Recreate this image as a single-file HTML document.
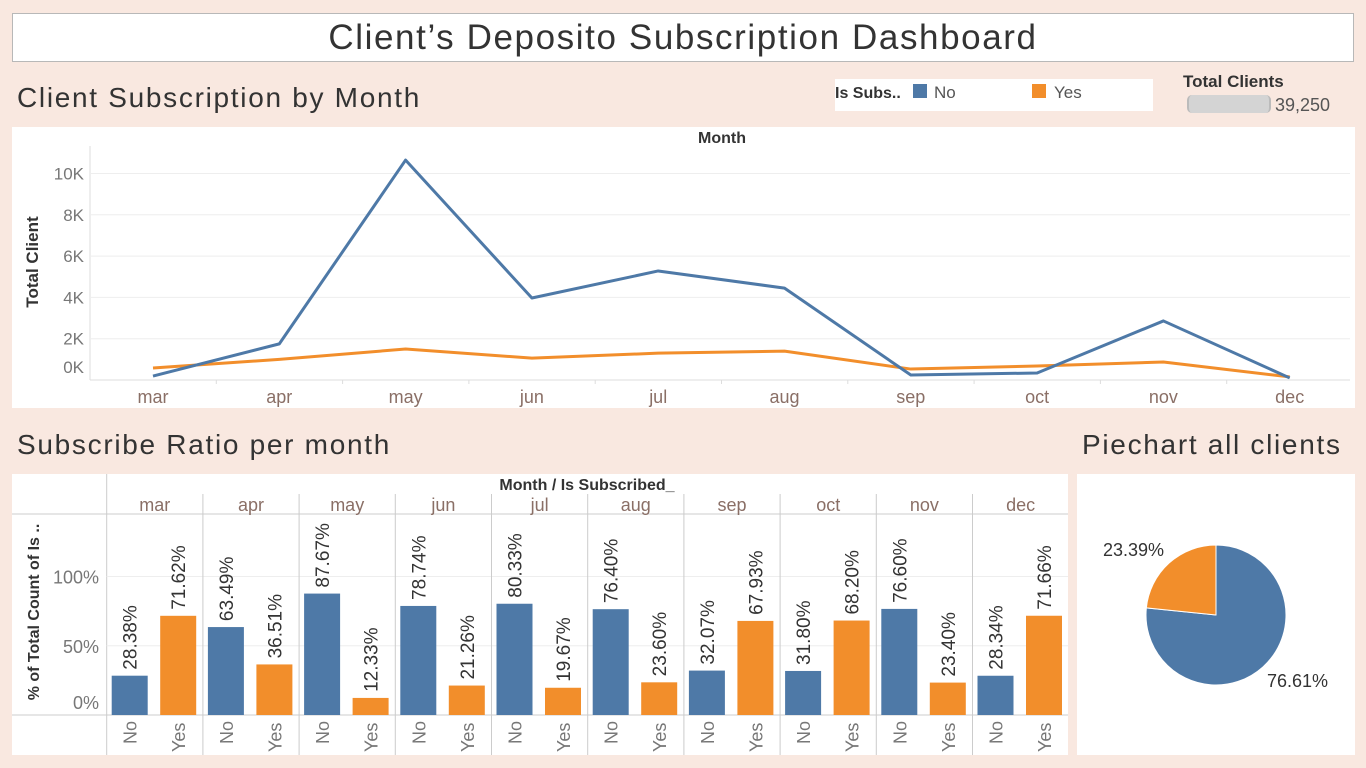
<!DOCTYPE html>
<html><head><meta charset="utf-8"><style>
body{margin:0;width:1366px;height:768px;background:#f9e8e0;font-family:"Liberation Sans",sans-serif;position:relative;overflow:hidden}
.abs{position:absolute}
svg text{font-family:"Liberation Sans",sans-serif}
.sub{letter-spacing:1.7px}
</style></head><body>
<div class="abs" style="left:12px;top:13px;width:1340px;height:47px;background:#fff;border:1px solid #b8b8b8;text-align:center;font-size:35px;letter-spacing:1.6px;line-height:48px;color:#333">Client’s Deposito Subscription Dashboard</div>
<div class="abs sub" style="left:17px;top:82px;font-size:28px;color:#333">Client Subscription by Month</div>
<div class="abs" style="left:835px;top:79px;width:318px;height:32px;background:#fff;font-size:17px;line-height:28px;color:#555">
<b style="color:#333;font-size:16px">Is Subs..</b>
<span class="abs" style="left:78px;top:5px;width:14px;height:14px;background:#4e79a7"></span><span class="abs" style="left:99px;top:0">No</span>
<span class="abs" style="left:197px;top:5px;width:14px;height:14px;background:#f28e2b"></span><span class="abs" style="left:219px;top:0">Yes</span>
</div>
<div class="abs" style="left:1183px;top:72px;font-size:17px;font-weight:bold;color:#333">Total Clients</div>
<div class="abs" style="left:1187px;top:95px;width:80px;height:18px;background:#d4d4d4;border-radius:5px;border-left:2px solid #bbb;border-right:2px solid #bbb"></div>
<div class="abs" style="left:1275px;top:95px;font-size:18px;color:#555">39,250</div>
<div class="abs sub" style="left:17px;top:429px;font-size:28px;color:#333">Subscribe Ratio per month</div>
<div class="abs sub" style="left:1082px;top:429px;font-size:28px;color:#333">Piechart all clients</div>

<svg class="abs" style="left:0;top:0" width="1366" height="768">
<rect x="12" y="127" width="1343" height="281" fill="#fff"/>
<g id="line"></g>
<rect x="12" y="474" width="1056" height="281" fill="#fff"/>
<g id="bars"></g>
<rect x="1077" y="474" width="278" height="281" fill="#fff"/>
<g id="pie"></g>
</svg>
<script>
const months=["mar","apr","may","jun","jul","aug","sep","oct","nov","dec"];
const noCounts=[190,1750,10650,3970,5280,4450,240,340,2860,100];
const yesCounts=[580,1000,1500,1060,1300,1400,530,680,870,150];
const yTicks=[0,2000,4000,6000,8000,10000];
const yTickLabels=["0K","2K","4K","6K","8K","10K"];
const noPct=[28.38,63.49,87.67,78.74,80.33,76.40,32.07,31.80,76.60,28.34];
const yesPct=[71.62,36.51,12.33,21.26,19.67,23.60,67.93,68.20,23.40,71.66];
const pctTicks=[0,50,100];
const pieShares=[76.61,23.39];
const NS="http://www.w3.org/2000/svg";
function mk(p,t,a,txt){const e=document.createElementNS(NS,t);for(const k in a)e.setAttribute(k,a[k]);if(txt!==undefined)e.textContent=txt;p.appendChild(e);return e;}
const BLUE="#4e79a7",OR="#f28e2b";
const L=document.getElementById('line');
const lx=i=>153+i*126.3, ly=v=>380-v*0.02065;
mk(L,'line',{x1:90,y1:146,x2:90,y2:380,stroke:'#ddd'});
mk(L,'line',{x1:90,y1:380,x2:1350,y2:380,stroke:'#ddd'});
yTicks.forEach((t,i)=>{
 if(t>0){const g=mk(L,'line',{x1:90,y1:ly(t),x2:1350,y2:ly(t),stroke:'#eee'});}
 const tx=mk(L,'text',{x:84,y:(t===0?373:ly(t)+6),'text-anchor':'end','font-size':17,fill:'#777'},yTickLabels[i]);
 
});
months.forEach((m,i)=>{const t=mk(L,'text',{x:lx(i),y:403,'text-anchor':'middle','font-size':18,fill:'#8a6f66'},m);
 
 if(i>0)mk(L,'line',{x1:lx(i)-63,y1:380,x2:lx(i)-63,y2:384,stroke:'#ddd'});});
{const t=mk(L,'text',{x:722,y:143,'text-anchor':'middle','font-size':16,'font-weight':'bold',fill:'#333'},'Month');}
{const t=mk(L,'text',{x:0,y:0,transform:'translate(38,262) rotate(-90)','text-anchor':'middle','font-size':17,'font-weight':'bold',fill:'#333'},'Total Client');}
[[yesCounts,OR,'line-yes'],[noCounts,BLUE,'line-no']].forEach(([d,c,n])=>{
 const p=mk(L,'polyline',{points:d.map((v,i)=>lx(i)+','+ly(v)).join(' '),fill:'none',stroke:c,'stroke-width':3,'stroke-linejoin':'round'});
 
});
const B=document.getElementById('bars');
const px0=106.7,pw=96.2,by=v=>715-v*1.385;
mk(B,'line',{x1:12,y1:514,x2:1068,y2:514,stroke:'#ccc'});
mk(B,'line',{x1:12,y1:715,x2:1068,y2:715,stroke:'#ccc'});
mk(B,'line',{x1:px0,y1:474,x2:px0,y2:755,stroke:'#ccc'});
pctTicks.forEach(t=>{
 if(t>0)mk(B,'line',{x1:px0,y1:by(t),x2:1068,y2:by(t),stroke:'#eee'});
 const tx=mk(B,'text',{x:99,y:(t===0?709:by(t)+7),'text-anchor':'end','font-size':18,fill:'#777'},t+'%');
 
});
{const t=mk(B,'text',{x:587,y:490,'text-anchor':'middle','font-size':16,'font-weight':'bold',fill:'#333'},'Month  /  Is Subscribed_');}
{const t=mk(B,'text',{x:0,y:0,transform:'translate(39,612) rotate(-90)','text-anchor':'middle','font-size':16,'font-weight':'bold',fill:'#333'},'% of Total Count of Is ..');}
months.forEach((m,i)=>{
 const x=px0+i*pw;
 if(i>0)mk(B,'line',{x1:x,y1:494,x2:x,y2:755,stroke:'#ccc'});
 const t=mk(B,'text',{x:x+pw/2,y:511,'text-anchor':'middle','font-size':18,fill:'#8a6f66'},m);
 
 [[noPct[i],BLUE,'No',5],[yesPct[i],OR,'Yes',53.5]].forEach(([v,c,lab,off])=>{
  const bx=x+off;
  const r=mk(B,'rect',{x:bx,y:by(v),width:36,height:715-by(v),fill:c});
  
  const vt=mk(B,'text',{x:0,y:0,transform:`translate(${bx+25},${by(v)-6}) rotate(-90)`,'font-size':19,fill:'#333'},v.toFixed(2)+'%');
  
  const ct=mk(B,'text',{x:0,y:0,transform:`translate(${bx+25},${lab==='No'?744:752}) rotate(-90)`,'font-size':18,fill:'#777'},lab);
  
 });
});
const P=document.getElementById('pie');
const cx=1216,cy=615,R=70;let a0=0;
[[pieShares[0],BLUE,'pie-no'],[pieShares[1],OR,'pie-yes']].forEach(([s,c,n])=>{
 const a1=a0+s/100*2*Math.PI;
 const p1=[cx+R*Math.sin(a0),cy-R*Math.cos(a0)],p2=[cx+R*Math.sin(a1),cy-R*Math.cos(a1)];
 const pa=mk(P,'path',{d:`M${cx},${cy}L${p1[0]},${p1[1]}A${R},${R} 0 ${s>50?1:0} 1 ${p2[0]},${p2[1]}Z`,fill:c,stroke:'#fff','stroke-width':1});
 
 a0=a1;
});
{const t=mk(P,'text',{x:1328,y:687,'text-anchor':'end','font-size':18,fill:'#333'},pieShares[0].toFixed(2)+'%');}
{const t=mk(P,'text',{x:1103,y:556,'font-size':18,fill:'#333'},pieShares[1].toFixed(2)+'%');}
</script>
</body></html>
